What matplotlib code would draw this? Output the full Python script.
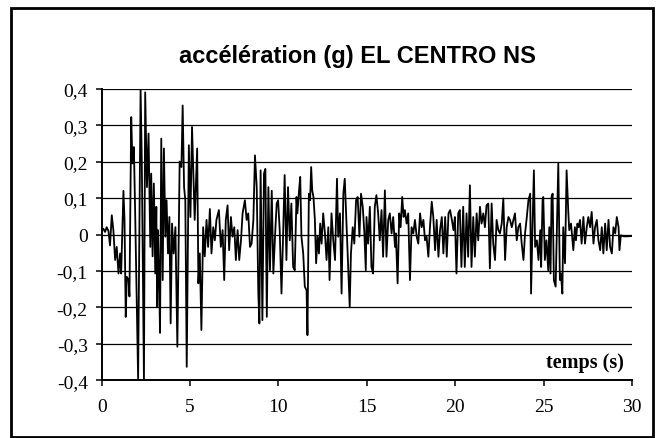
import matplotlib.pyplot as plt
import matplotlib.patches as patches
import numpy as np

# acceleration record (turning points)
temps = [
    0.00, 0.09, 0.19, 0.28, 0.38, 0.47, 0.57, 0.66, 0.76, 0.85,
    0.95, 1.04, 1.10, 1.17, 1.23, 1.29, 1.36, 1.42, 1.52, 1.57,
    1.67, 1.74, 1.82, 1.89, 2.06, 2.20, 2.27, 2.39, 2.46, 2.56,
    2.65, 2.75, 2.80, 2.88, 2.95, 3.03, 3.09, 3.14, 3.18, 3.24,
    3.30, 3.37, 3.45, 3.52, 3.60, 3.67, 3.75, 3.83, 3.90, 3.98,
    4.07, 4.17, 4.28, 4.41, 4.51, 4.58, 4.66, 4.73, 4.81, 4.93,
    5.02, 5.11, 5.26, 5.40, 5.47, 5.55, 5.64, 5.74, 5.83, 5.93,
    6.02, 6.12, 6.21, 6.31, 6.40, 6.49, 6.63, 6.74, 6.84, 6.93,
    7.02, 7.12, 7.21, 7.31, 7.40, 7.50, 7.59, 7.69, 7.78, 7.88,
    7.97, 8.10, 8.20, 8.29, 8.39, 8.48, 8.58, 8.67, 8.77, 8.86,
    8.92, 8.99, 9.09, 9.18, 9.26, 9.34, 9.43, 9.52, 9.62, 9.71,
    9.83, 9.90, 9.98, 10.07, 10.17, 10.26, 10.35, 10.45, 10.54, 10.64,
    10.73, 10.83, 10.92, 11.02, 11.07, 11.15, 11.23, 11.30, 11.40, 11.49,
    11.59, 11.64, 11.72, 11.79, 11.85, 11.91, 11.98, 12.06, 12.13, 12.21,
    12.29, 12.36, 12.44, 12.53, 12.63, 12.72, 12.82, 12.89, 13.00, 13.10,
    13.20, 13.31, 13.38, 13.48, 13.57, 13.67, 13.75, 13.84, 13.91, 14.03,
    14.10, 14.20, 14.29, 14.39, 14.48, 14.58, 14.67, 14.77, 14.86, 14.94,
    14.98, 15.07, 15.17, 15.26, 15.35, 15.45, 15.54, 15.64, 15.73, 15.83,
    15.92, 16.02, 16.11, 16.21, 16.30, 16.40, 16.49, 16.59, 16.64, 16.74,
    16.83, 16.91, 17.00, 17.08, 17.15, 17.25, 17.34, 17.44, 17.53, 17.63,
    17.72, 17.82, 17.91, 18.01, 18.10, 18.20, 18.29, 18.38, 18.48, 18.57,
    18.67, 18.76, 18.86, 18.95, 19.05, 19.14, 19.24, 19.33, 19.43, 19.52,
    19.62, 19.71, 19.81, 19.90, 19.98, 20.07, 20.17, 20.26, 20.35, 20.45,
    20.54, 20.64, 20.73, 20.83, 20.92, 21.02, 21.11, 21.21, 21.30, 21.40,
    21.49, 21.59, 21.68, 21.77, 21.87, 21.96, 22.06, 22.15, 22.25, 22.34,
    22.44, 22.53, 22.63, 22.72, 22.82, 22.91, 23.01, 23.10, 23.20, 23.29,
    23.38, 23.48, 23.57, 23.67, 23.76, 23.86, 23.95, 24.05, 24.14, 24.24,
    24.29, 24.37, 24.45, 24.52, 24.62, 24.71, 24.81, 24.86, 24.94, 24.98,
    25.07, 25.16, 25.26, 25.32, 25.39, 25.45, 25.51, 25.58, 25.68, 25.73,
    25.83, 25.92, 25.98, 26.06, 26.11, 26.21, 26.30, 26.40, 26.45, 26.55,
    26.60, 26.68, 26.77, 26.83, 26.91, 26.98, 27.06, 27.15, 27.25, 27.34,
    27.44, 27.53, 27.63, 27.72, 27.82, 27.91, 28.01, 28.10, 28.20, 28.29,
    28.38, 28.48, 28.57, 28.67, 28.76, 28.86, 28.95, 29.05, 29.14, 29.24,
    29.29, 29.37, 29.52, 29.75, 30.00,
]
acc = [
    0.010, 0.016, 0.007, 0.020, 0.010, -0.030, 0.053, 0.012, -0.070, -0.034,
    -0.107, -0.052, -0.107, 0.020, 0.120, 0.040, -0.226, -0.116, -0.125, -0.170,
    0.322, 0.195, 0.240, 0.067, -0.395, 0.400, 0.195, -0.400, 0.390, 0.130,
    0.277, -0.034, 0.167, -0.060, 0.140, -0.107, 0.076, -0.198, 0.012, -0.107,
    -0.270, 0.263, -0.125, 0.236, -0.006, 0.094, -0.052, 0.048, -0.244, 0.030,
    -0.052, 0.020, -0.308, 0.200, 0.185, 0.354, 0.130, 0.094, -0.363, 0.245,
    0.048, 0.295, 0.040, 0.236, -0.134, -0.052, -0.262, 0.020, -0.060, 0.040,
    -0.034, 0.070, -0.052, 0.020, -0.016, 0.040, 0.067, -0.034, 0.012, -0.125,
    0.040, 0.080, -0.043, 0.048, -0.006, 0.020, -0.070, 0.012, -0.070, -0.016,
    0.058, 0.094, 0.040, 0.058, -0.034, -0.025, 0.040, 0.217, 0.130, -0.162,
    -0.244, 0.176, -0.235, 0.167, 0.180, -0.226, 0.130, -0.098, 0.120, -0.107,
    0.020, 0.085, 0.094, 0.012, -0.162, -0.006, 0.163, -0.070, 0.130, -0.016,
    0.085, -0.089, -0.098, 0.103, 0.058, 0.112, 0.158, -0.006, -0.052, -0.143,
    -0.153, -0.276, 0.112, 0.094, 0.185, 0.121, 0.103, 0.040, -0.079, -0.006,
    -0.052, 0.030, -0.025, 0.058, 0.003, -0.070, 0.020, -0.125, 0.058, -0.016,
    -0.070, 0.153, -0.006, 0.058, -0.162, 0.112, 0.153, 0.040, -0.052, -0.198,
    -0.052, 0.020, -0.025, 0.094, 0.103, -0.006, 0.112, 0.075, 0.003, -0.098,
    0.048, -0.025, 0.076, -0.089, -0.107, 0.076, 0.108, 0.058, -0.016, 0.067,
    -0.061, 0.121, -0.061, 0.040, 0.058, 0.003, 0.048, -0.034, 0.003, -0.134,
    0.058, 0.020, 0.103, 0.048, 0.067, 0.030, 0.058, -0.125, 0.020, 0.003,
    0.040, -0.006, -0.025, 0.058, 0.020, 0.040, -0.016, -0.006, -0.061, 0.020,
    0.090, 0.048, -0.043, 0.040, -0.061, 0.012, 0.048, -0.052, 0.048, -0.061,
    0.058, 0.067, 0.040, 0.012, 0.048, -0.107, 0.058, 0.067, -0.089, 0.076,
    -0.089, 0.058, -0.061, 0.135, -0.089, 0.048, -0.061, 0.058, -0.016, 0.076,
    0.030, 0.058, 0.020, 0.080, 0.085, -0.093, 0.085, -0.025, -0.070, 0.040,
    0.012, 0.003, 0.030, 0.099, -0.070, 0.020, 0.048, 0.040, 0.020, 0.040,
    0.058, -0.016, 0.020, 0.030, -0.025, -0.070, 0.003, 0.048, 0.094, 0.112,
    -0.162, 0.020, 0.176, -0.034, -0.016, -0.070, 0.012, -0.089, 0.094, 0.103,
    -0.070, -0.016, -0.098, 0.020, -0.107, 0.103, 0.112, -0.125, -0.143, -0.034,
    0.195, -0.125, -0.107, -0.162, 0.020, -0.079, 0.176, 0.058, 0.012, 0.030,
    0.003, -0.043, 0.020, -0.016, 0.030, 0.020, 0.040, -0.025, 0.048, -0.025,
    0.020, 0.048, 0.020, 0.062, -0.025, 0.020, 0.040, -0.016, -0.043, 0.020,
    -0.052, 0.030, -0.043, 0.040, -0.034, -0.052, 0.020, 0.003, 0.048, 0.020,
    -0.043, -0.002, -0.005, -0.005, -0.004,
]

x_ticks = [0, 5, 10, 15, 20, 25, 30]
y_ticks = [-0.4, -0.3, -0.2, -0.1, 0, 0.1, 0.2, 0.3, 0.4]


def fr_label(v):
    if abs(v) < 1e-9:
        return '0'
    return ('%.1f' % v).replace('.', ',')


W, H = 662, 439
fig = plt.figure(figsize=(W / 100, H / 100), dpi=100)
ax = fig.add_axes([101.7 / W, 1 - 381.3 / H, (632 - 101.7) / W, (381.3 - 89.7) / H])

for v in y_ticks:
    ax.axhline(v, color='black', lw=0.9, zorder=1)

ax.plot(temps, acc, color='black', lw=1.3, zorder=3)

ax.set_xlim(0, 30)
ax.set_ylim(-0.4, 0.4)
ax.set_xticks(x_ticks)
ax.set_xticklabels([str(v) for v in x_ticks])
ax.set_yticks(y_ticks)
ax.set_yticklabels([fr_label(v) for v in y_ticks])

for s in ['top', 'right']:
    ax.spines[s].set_visible(False)
for s in ['left', 'bottom']:
    ax.spines[s].set_linewidth(1.4)
    ax.spines[s].set_zorder(4)

ax.tick_params(axis='both', direction='out', length=4, width=1.1, colors='black')
ax.tick_params(axis='x', pad=9)
ax.tick_params(axis='y', pad=6)
for lab in ax.get_xticklabels() + ax.get_yticklabels():
    lab.set_family('Liberation Serif')
    lab.set_fontsize(14)

fig.text(357 / W, 1 - 57 / H, 'accélération (g) EL CENTRO NS',
         ha='center', va='center', fontsize=17, fontweight='bold',
         family='Liberation Sans')
fig.text(624 / W, 1 - 363 / H, 'temps (s)', ha='right', va='center',
         fontsize=14.5, fontweight='bold', family='Liberation Serif')

frame = patches.Rectangle((11 / W, 1 - 438 / H), (653 - 11) / W, (438 - 9) / H,
                          transform=fig.transFigure, fill=False,
                          edgecolor='black', lw=2)
fig.add_artist(frame)

fig.savefig('out.png', dpi=100)
